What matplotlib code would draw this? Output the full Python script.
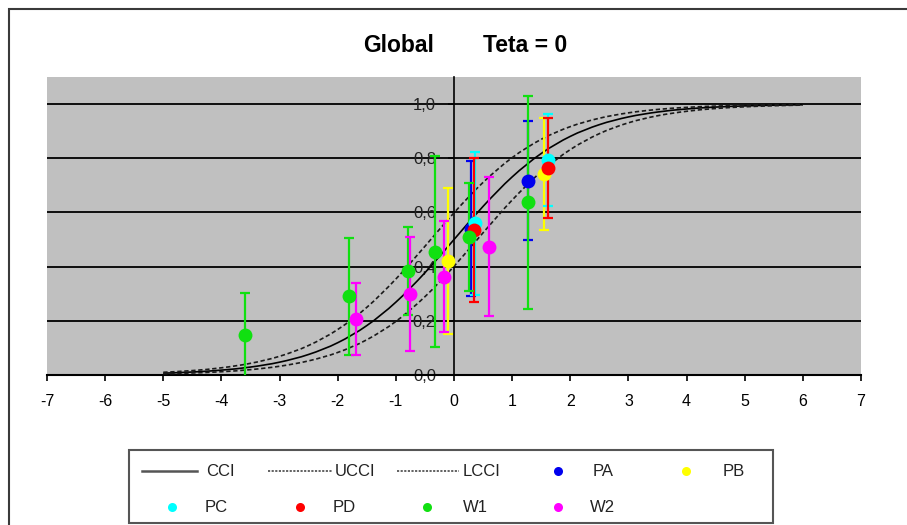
import matplotlib
matplotlib.use("Agg")
import matplotlib.pyplot as plt
from matplotlib.patches import Rectangle, PathPatch
from matplotlib.path import Path
from matplotlib.lines import Line2D

plt.rcParams['font.family'] = ['Liberation Sans', 'DejaVu Sans']
plt.rcParams['axes.unicode_minus'] = False

# ---------------- data ----------------
theta = [-5, -4.5, -4, -3.5, -3, -2.5, -2, -1.5, -1, -0.5, 0, 0.5, 1,
         1.5, 2, 2.5, 3, 3.5, 4, 4.5, 5, 5.5, 6]
cci = [0.0067, 0.0110, 0.0180, 0.0293, 0.0474, 0.0759, 0.1192, 0.1824,
       0.2689, 0.3775, 0.5000, 0.6225, 0.7311, 0.8176, 0.8808, 0.9241,
       0.9526, 0.9707, 0.9820, 0.9890, 0.9933, 0.9959, 0.9975]
ucci = [0.0100, 0.0163, 0.0266, 0.0431, 0.0691, 0.1091, 0.1680, 0.2497,
        0.3543, 0.4750, 0.5987, 0.7109, 0.8022, 0.8699, 0.9168, 0.9478,
        0.9677, 0.9802, 0.9879, 0.9926, 0.9955, 0.9973, 0.9983]
lcci = [0.0045, 0.0074, 0.0121, 0.0198, 0.0323, 0.0522, 0.0832, 0.1301,
        0.1978, 0.2891, 0.4013, 0.5250, 0.6457, 0.7503, 0.8320, 0.8909,
        0.9309, 0.9569, 0.9734, 0.9837, 0.9900, 0.9939, 0.9963]

pa_x = [0.30, 1.28]
pa_y = [0.54, 0.717]
pa_err = [0.25, 0.22]

pb_x = [-0.10, 1.54]
pb_y = [0.42, 0.742]
pb_err = [0.27, 0.205]

pc_x = [0.36, 1.62]
pc_y = [0.560, 0.793]
pc_err = [0.265, 0.17]

pd_x = [0.34, 1.61]
pd_y = [0.535, 0.765]
pd_err = [0.265, 0.185]

w1_x = [-3.60, -1.81, -0.79, -0.32, 0.25, 1.28]
w1_y = [0.147, 0.290, 0.385, 0.455, 0.510, 0.637]
w1_err = [0.155, 0.215, 0.162, 0.352, 0.200, 0.393]

w2_x = [-1.69, -0.76, -0.17, 0.61]
w2_y = [0.205, 0.299, 0.363, 0.474]
w2_err = [0.133, 0.210, 0.206, 0.256]

x_ticks = [-7, -6, -5, -4, -3, -2, -1, 0, 1, 2, 3, 4, 5, 6, 7]
y_ticks = [0.0, 0.2, 0.4, 0.6, 0.8, 1.0]
y_labels = ["0,0", "0,2", "0,4", "0,6", "0,8", "1,0"]

series = [
    ("PA", pa_x, pa_y, pa_err, "#0000EE"),
    ("PB", pb_x, pb_y, pb_err, "#FFFF00"),
    ("PC", pc_x, pc_y, pc_err, "#00FFFF"),
    ("PD", pd_x, pd_y, pd_err, "#FF0000"),
    ("W1", w1_x, w1_y, w1_err, "#11E011"),
    ("W2", w2_x, w2_y, w2_err, "#FF00FF"),
]

# ---------------- figure ----------------
W, H = 907, 525
fig = plt.figure(figsize=(W / 100, H / 100), dpi=100)
fig.patch.set_facecolor("white")


def fx(px):
    return px / W


def fy(py):
    return 1 - py / H


def smooth_path(xs, ys):
    """Excel-style smoothed line: cubic Bezier segments through the points."""
    pts = list(zip(xs, ys))
    n = len(pts)
    verts = [pts[0]]
    codes = [Path.MOVETO]
    for i in range(n - 1):
        p0 = pts[i - 1] if i > 0 else pts[i]
        p1 = pts[i]
        p2 = pts[i + 1]
        p3 = pts[i + 2] if i + 2 < n else pts[i + 1]
        c1 = (p1[0] + (p2[0] - p0[0]) / 6, p1[1] + (p2[1] - p0[1]) / 6)
        c2 = (p2[0] - (p3[0] - p1[0]) / 6, p2[1] - (p3[1] - p1[1]) / 6)
        verts += [c1, c2, p2]
        codes += [Path.CURVE4] * 3
    return Path(verts, codes)


# outer chart border
fig.add_artist(Rectangle((fx(9), fy(545)), fx(930) - fx(9), fy(9) - fy(545),
                         transform=fig.transFigure, fill=False,
                         edgecolor="#3a3a3a", linewidth=1.5))

ax = fig.add_axes([fx(47), fy(375), fx(861) - fx(47), fy(77) - fy(375)])
ax.set_facecolor("#C0C0C0")
ax.set_xlim(-7, 7)
ax.set_ylim(0, 1.1)

for yv in y_ticks[1:]:
    ax.axhline(yv, color="black", linewidth=1.3, zorder=1)

ax.spines['top'].set_visible(False)
ax.spines['right'].set_visible(False)
ax.spines['left'].set_position(('data', 0))
ax.spines['left'].set_linewidth(1.2)
ax.spines['bottom'].set_linewidth(1.5)
ax.spines['left'].set_zorder(2)

ax.set_xticks(x_ticks)
ax.set_xticklabels([str(v) for v in x_ticks])
ax.set_yticks(y_ticks)
ax.set_yticklabels(y_labels)
ax.tick_params(axis='x', direction='out', length=4, width=1.2, pad=10,
               labelsize=11.5, colors='black')
ax.tick_params(axis='y', direction='out', length=4, width=1.2, pad=9,
               labelsize=12, colors='black')
for lab in ax.get_yticklabels():
    lab.set_color("#222222")

# curves (smoothed, like Excel)
ax.add_patch(PathPatch(smooth_path(theta, cci), fill=False, edgecolor="black",
                       linewidth=1.2, zorder=3))
ax.add_patch(PathPatch(smooth_path(theta, ucci), fill=False, edgecolor="#1a1a1a",
                       linewidth=1.2, linestyle=(0, (2.6, 1.6)), zorder=3))
ax.add_patch(PathPatch(smooth_path(theta, lcci), fill=False, edgecolor="#1a1a1a",
                       linewidth=1.2, linestyle=(0, (2.6, 1.6)), zorder=3))

# error bars first, then markers on top
for name, xs, ys, es, col in series:
    ax.errorbar(xs, ys, yerr=es, fmt='none', ecolor=col, elinewidth=1.6,
                capsize=3.3, capthick=1.6, zorder=4)
for name, xs, ys, es, col in series:
    ax.plot(xs, ys, 'o', color=col, markersize=10, markeredgewidth=0,
            zorder=5, linestyle='none')

# title
fig.text(fx(399), fy(46), "Global", ha='center', va='center',
         fontsize=16.5, fontweight='bold', color='black')
fig.text(fx(525), fy(46), "Teta = 0", ha='center', va='center',
         fontsize=16.5, fontweight='bold', color='black')

# ---------------- legend (manual, Excel-like layout) ----------------
fig.add_artist(Rectangle((fx(129), fy(523)), fx(773) - fx(129), fy(450) - fy(523),
                         transform=fig.transFigure, fill=False,
                         edgecolor="#555555", linewidth=1.5))
row1, row2 = 471, 507
leg_font = dict(fontsize=12, color='#222222', va='center', ha='left')

fig.add_artist(Line2D([fx(142), fx(197)], [fy(row1), fy(row1)],
                      transform=fig.transFigure, color="#555555", linewidth=1.8))
fig.text(fx(206), fy(row1), "CCI", **leg_font)
fig.add_artist(Line2D([fx(268), fx(333)], [fy(row1), fy(row1)],
                      transform=fig.transFigure, color="#555555", linewidth=1.3,
                      dashes=(1.2, 0.8)))
fig.text(fx(335), fy(row1), "UCCI", **leg_font)
fig.add_artist(Line2D([fx(397), fx(459)], [fy(row1), fy(row1)],
                      transform=fig.transFigure, color="#555555", linewidth=1.3,
                      dashes=(1.2, 0.8)))
fig.text(fx(463), fy(row1), "LCCI", **leg_font)

marker_pos = {
    "PA": (558, row1, 593), "PB": (686, row1, 723),
    "PC": (172, row2, 205), "PD": (300, row2, 333),
    "W1": (427, row2, 463), "W2": (558, row2, 590),
}
for name, xs, ys, es, col in series:
    mx, my, tx = marker_pos[name]
    fig.add_artist(Line2D([fx(mx)], [fy(my)], transform=fig.transFigure,
                          marker='o', markersize=6.5, color=col,
                          markeredgewidth=0, linestyle='none'))
    fig.text(fx(tx), fy(my), name, **leg_font)

fig.savefig("out.png", dpi=100)
